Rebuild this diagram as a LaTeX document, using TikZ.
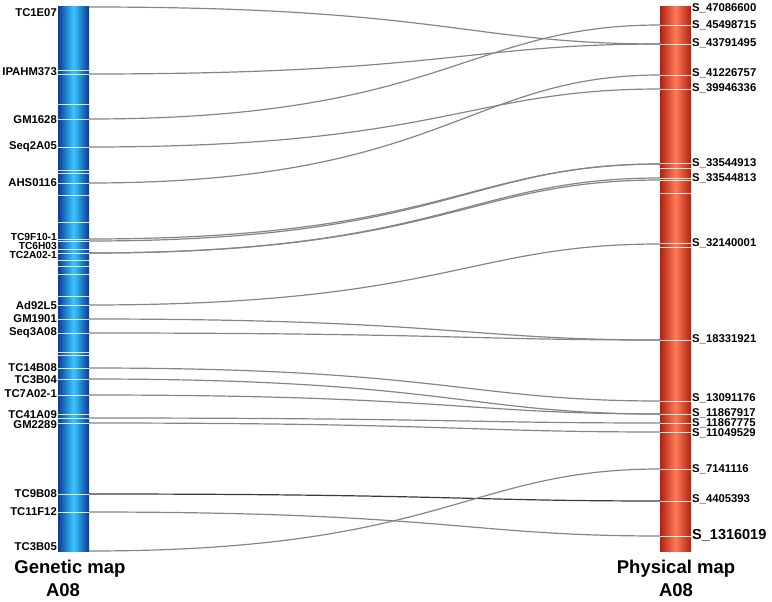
\documentclass[tikz,border=0pt]{standalone}
\usepackage{fontspec}
\setmainfont{Liberation Sans}
\definecolor{bluedark}{HTML}{0B3A98}
\definecolor{bluelight}{HTML}{38C8FF}
\definecolor{reddark}{HTML}{B0200E}
\definecolor{redlight}{HTML}{FF7C58}
\definecolor{linkgray}{HTML}{858585}
\definecolor{linkdark}{HTML}{3A3A3A}
\tikzset{
  bluebar/.style={left color=bluedark, right color=bluedark, middle color=bluelight, draw=none},
  redbar/.style={left color=reddark, right color=reddark, middle color=redlight, draw=none},
  band/.style={draw=white, opacity=0.85, line width=0.9pt},
  link/.style={draw=linkgray, line width=1.2pt},
  darklink/.style={draw=linkdark, line width=1.2pt},
  glbl/.style={anchor=east, inner sep=0pt, font=\fontsize{11.3}{12}\selectfont\bfseries},
  tight/.style={font=\fontsize{10.2}{11}\selectfont\bfseries},
  plbl/.style={anchor=west, inner sep=0pt, font=\fontsize{11.3}{12}\selectfont\bfseries},
  title/.style={inner sep=0pt, font=\fontsize{18.5}{20}\selectfont\bfseries}
}
\newcommand{\lnk}[3][link]{\draw[#1] (#2) .. controls +(356,0) and +(-193,0) .. (#3);}
\begin{document}
\begin{tikzpicture}[x=1pt, y=-1pt]
\useasboundingbox (0,0) rectangle (772,602);
% bars
\path[bluebar] (58,7) rectangle (89,551);
\path[redbar] (660,7) rectangle (691,551);
\foreach \y in {70,74,104,119,147,170,173,183,195,222,239,241,249,253,260,266,274,296,305,319,333,352,355,368,379,395,414,418,423,494,512}
  \draw[band] (58,\y) -- (89,\y);
\foreach \y in {25,44,75,89,163,168,178,180,193,243,247,340,401,414,423,432,469,501,536}
  \draw[band] (660,\y) -- (691,\y);
% left marker points
\coordinate (gTC1E07) at (89,7);
\coordinate (gIPAHM373) at (89,74);
\coordinate (gGM1628) at (89,119);
\coordinate (gSeq2A05) at (89,147);
\coordinate (gAHS0116) at (89,183);
\coordinate (gTC9F10) at (89,239);
\coordinate (gTC6H03) at (89,241);
\coordinate (gTC2A02) at (89,253);
\coordinate (gAd92L5) at (89,305);
\coordinate (gGM1901) at (89,319);
\coordinate (gSeq3A08) at (89,333);
\coordinate (gTC14B08) at (89,368);
\coordinate (gTC3B04) at (89,379);
\coordinate (gTC7A02) at (89,395);
\coordinate (gTC41A09) at (89,418);
\coordinate (gGM2289) at (89,423);
\coordinate (gTC9B08) at (89,494);
\coordinate (gTC11F12) at (89,512);
\coordinate (gTC3B05) at (89,551);
% right marker points
\coordinate (p45498715) at (660,25);
\coordinate (p43791495) at (660,44);
\coordinate (p41226757) at (660,75);
\coordinate (p39946336) at (660,89);
\coordinate (p33544913) at (660,164);
\coordinate (p33544813) at (660,178);
\coordinate (p33544813b) at (660,180);
\coordinate (p32140001) at (660,244);
\coordinate (p18331921) at (660,340);
\coordinate (p13091176) at (660,401);
\coordinate (p11867917) at (660,414);
\coordinate (p11867775) at (660,423);
\coordinate (p11049529) at (660,432);
\coordinate (p7141116) at (660,469);
\coordinate (p4405393) at (660,501);
\coordinate (p1316019) at (660,536);
% links
\lnk{gTC1E07}{p43791495}
\lnk{gIPAHM373}{p43791495}
\lnk{gGM1628}{p45498715}
\lnk{gSeq2A05}{p39946336}
\lnk{gAHS0116}{p41226757}
\lnk{gTC9F10}{p33544913}
\lnk{gTC6H03}{p33544913}
\lnk{gTC2A02}{p33544813}
\lnk{gTC2A02}{p33544813b}
\lnk{gAd92L5}{p32140001}
\lnk{gGM1901}{p18331921}
\lnk{gSeq3A08}{p18331921}
\lnk{gTC14B08}{p13091176}
\lnk{gTC3B04}{p11867917}
\lnk{gTC7A02}{p11867917}
\lnk{gTC41A09}{p11867775}
\lnk{gGM2289}{p11049529}
\lnk[darklink]{gTC9B08}{p4405393}
\lnk{gTC11F12}{p1316019}
\lnk{gTC3B05}{p7141116}
% left labels
\node[glbl] (tTC1E07) at (57,13) {TC1E07};
\node[glbl] (tIPAHM373) at (57,72) {IPAHM373};
\node[glbl] (tGM1628) at (57,120) {GM1628};
\node[glbl] (tSeq2A05) at (57,147) {Seq2A05};
\node[glbl] (tAHS0116) at (57,183) {AHS0116};
\node[glbl, tight] (tTC9F10) at (57,237) {TC9F10-1};
\node[glbl, tight] (tTC6H03) at (57,246) {TC6H03};
\node[glbl, tight] (tTC2A02) at (57,255) {TC2A02-1};
\node[glbl] (tAd92L5) at (57,305) {Ad92L5};
\node[glbl] (tGM1901) at (57,319) {GM1901};
\node[glbl] (tSeq3A08) at (57,333) {Seq3A08};
\node[glbl] (tTC14B08) at (57,368) {TC14B08};
\node[glbl] (tTC3B04) at (57,380) {TC3B04};
\node[glbl] (tTC7A02) at (57,394) {TC7A02-1};
\node[glbl] (tTC41A09) at (57,415) {TC41A09};
\node[glbl] (tGM2289) at (57,425) {GM2289};
\node[glbl] (tTC9B08) at (57,494) {TC9B08};
\node[glbl] (tTC11F12) at (57,512) {TC11F12};
\node[glbl] (tTC3B05) at (57,547) {TC3B05};
% right labels
\node[plbl] (s47086600) at (692,8) {S\_47086600};
\node[plbl] (s45498715) at (692,25) {S\_45498715};
\node[plbl] (s43791495) at (692,43) {S\_43791495};
\node[plbl] (s41226757) at (692,73) {S\_41226757};
\node[plbl] (s39946336) at (692,88) {S\_39946336};
\node[plbl] (s33544913) at (692,163) {S\_33544913};
\node[plbl] (s33544813) at (692,178) {S\_33544813};
\node[plbl] (s32140001) at (692,243) {S\_32140001};
\node[plbl] (s18331921) at (692,339) {S\_18331921};
\node[plbl] (s13091176) at (692,398) {S\_13091176};
\node[plbl] (s11867917) at (692,413) {S\_11867917};
\node[plbl] (s11867775) at (692,423) {S\_11867775};
\node[plbl] (s11049529) at (692,433) {S\_11049529};
\node[plbl] (s7141116) at (692,469) {S\_7141116};
\node[plbl] (s4405393) at (692,499) {S\_4405393};
\node[plbl, font=\fontsize{14.5}{16}\selectfont\bfseries] (s1316019) at (692,535) {S\_1316019};
% titles
\node[title] (gtitle) at (70,569) {Genetic map};
\node[title] (gsub) at (63,590) {A08};
\node[title] (ptitle) at (676,569) {Physical map};
\node[title] (psub) at (676,590) {A08};
\end{tikzpicture}
\end{document}
